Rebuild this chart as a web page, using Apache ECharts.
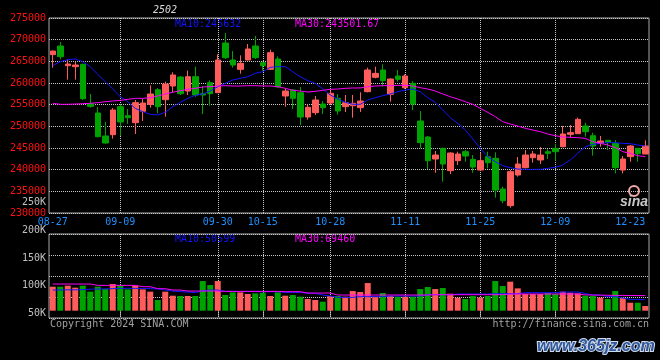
<!DOCTYPE html>
<html><head><meta charset="utf-8">
<script src="https://cdn.jsdelivr.net/npm/echarts@6/dist/echarts.min.js"></script>
<style>html,body{margin:0;padding:0;background:#000}#c{width:660px;height:360px}</style>
</head><body><div id="c"></div>
<script>
const dates = ['08-27','08-28','08-29','08-30','09-02','09-03','09-04','09-05','09-06','09-09',
'09-10','09-11','09-12','09-13','09-18','09-19','09-20','09-23','09-24','09-25',
'09-26','09-27','09-30','10-08','10-09','10-10','10-11','10-14','10-15','10-16',
'10-17','10-18','10-21','10-22','10-23','10-24','10-25','10-28','10-29','10-30',
'10-31','11-01','11-04','11-05','11-06','11-07','11-08','11-11','11-12','11-13',
'11-14','11-15','11-18','11-19','11-20','11-21','11-22','11-25','11-26','11-27',
'11-28','11-29','12-02','12-03','12-04','12-05','12-06','12-09','12-10','12-11',
'12-12','12-13','12-16','12-17','12-18','12-19','12-20','12-23','12-24','12-25'];

const opens = [266540,268540,264000,263770,264310,255230,253080,247770,248070,254540,
252460,250840,253460,255080,258460,256150,259310,261380,258150,261460,
257540,260080,257770,269230,265310,263150,265310,268540,264690,263150,
265540,257000,258380,257770,252150,253150,255150,255380,256460,254540,
254770,254310,258000,261310,263000,257380,261610,258920,259920,251230,
247540,242460,244920,239770,242070,244150,242380,239920,243000,242610,
235530,231690,238770,240460,242770,242230,244150,244920,245300,248150,
248310,250070,247840,246070,246770,246070,239920,243000,244920,243610];

const closes = [267380,266080,264380,264150,256380,254610,247610,246150,253770,251000,
252000,255460,255380,257460,254540,259770,261850,257540,261460,257230,
257230,257540,265310,265850,264150,264540,267850,265850,264000,267000,
259080,258150,256460,252150,254380,256080,254310,257610,253540,255460,
255310,255840,263000,262230,260540,260920,260850,261610,255150,246230,
242070,243380,241300,243840,243610,243150,240610,242070,241610,235300,
232840,239540,241300,243380,243610,243380,243770,244150,248230,248540,
251610,248770,245460,246610,246310,240460,242460,245460,243690,245460];

const lows = [263540,265460,260770,260770,256080,254310,247460,246000,247150,247770,
250540,248230,251230,254310,253000,252230,257850,257230,257230,256840,
252840,254770,257770,265540,263540,262150,265310,265540,262850,263000,
258920,254540,254000,250310,251540,252610,252840,255080,252690,253310,
252000,253310,257850,261080,259150,255690,260310,258610,253770,244920,
240150,239300,237230,239000,241070,241840,239300,239770,240300,233540,
232230,231230,238380,240300,241610,241300,242460,242070,245150,247460,
248230,247610,243230,245300,244540,239150,239150,241840,241840,243610];

const highs = [267500,269460,265460,264920,264460,257460,254460,251000,254230,255080,
254000,256080,256310,259460,258840,260310,262460,261610,262850,263770,
259310,260610,266610,271540,267380,266380,269000,270850,264920,267690,
266150,258770,258610,259080,255080,257000,255840,258230,257460,257230,
257230,257850,263540,263770,264310,261080,263000,262000,260460,253540,
247770,244310,245070,244000,244150,244540,243380,243920,244150,244000,
236070,239920,242920,244540,244310,245230,244690,245920,250070,250310,
252000,250840,248540,247770,246840,246840,243150,245690,244920,246770];

const ma10 = [264000,264920,265380,265540,264920,263770,262000,260310,258610,256840,
255690,254150,253380,252770,252610,253230,254540,255540,256460,257150,
257460,258150,259150,259920,260690,261080,261460,262230,262610,263610,
263770,263770,262610,261460,260540,259920,258610,257230,256310,255540,
255080,255080,256080,256610,257080,257460,258000,258380,258610,258000,
256610,255540,253770,252000,250690,249150,247070,244920,243000,241840,
240920,240460,240150,240070,240070,240070,240300,240540,241070,242230,
243770,245300,245840,246070,246230,246230,246070,246000,245690,245460];

const ma30 = [255310,255080,255080,255150,255230,255310,255460,255690,255840,256000,
256230,256460,256460,256610,257000,257460,257850,258230,258540,258770,
259080,259150,259310,259380,259310,259310,259380,259380,259310,259310,
259150,258770,258310,258150,257920,258080,258310,258540,258610,258770,
258850,258850,259150,259310,259380,259380,259460,259460,259310,258920,
258610,258150,257460,256840,256310,255690,255080,254150,253230,252230,
251070,250540,250070,249540,249150,248770,248230,247840,247540,247460,
247380,247230,246460,246070,245690,245070,244150,243770,243230,243000];

const volumes = [110400,110400,115000,105800,115000,87400,110400,99600,122600,115000,
98100,115000,98100,87400,49100,87400,69000,67500,67500,67500,
136400,118000,136400,72100,84300,84300,76700,79700,82800,67500,
84300,69000,72100,64400,53700,49100,41400,67500,67500,64400,
90400,85800,127200,64400,81200,67500,64400,64400,64400,99600,
108800,99600,104200,78200,59800,53700,67500,59800,67500,136400,
113400,133400,102700,76700,76700,76700,81200,76700,87400,82800,
79700,69000,67500,59800,53700,90400,59800,36800,36800,21500];

const volMa10 = [95000,95500,96000,96000,97000,99000,99600,100500,101500,102700,
103000,102700,102000,101500,100000,95000,90400,87400,85800,82800,
92000,95000,95000,88900,88900,88000,88900,87400,87400,87000,
87400,84300,84300,84300,79700,79700,72100,67500,61300,61300,
61300,64400,64400,64400,64400,67500,67500,67500,67500,67500,
73600,73600,73600,73600,76700,76700,76700,76700,76700,78200,
78200,78200,78200,82800,82800,82800,82800,82800,85800,85800,
85800,79700,72100,72100,64400,64400,58300,52100,52100,50600];

const volMa30 = [122600,122600,122600,122600,122600,122600,116500,116500,116500,116500,
116500,116500,110400,110400,101200,101200,95000,95000,90400,90400,
90400,90400,90400,88900,88900,88900,88900,88900,88900,88900,
88900,87400,87400,87400,81200,81200,81200,81200,72100,72100,
72100,72100,72100,72100,72100,72100,72100,72100,72100,72100,
72100,73600,73600,73600,73600,73600,73600,73600,73600,73600,
73600,76700,76700,76700,76700,76700,76700,76700,76700,76700,
76700,72600,72000,71500,71000,70500,70000,70000,69500,69460];

const labelIdx = [0, 9, 22, 28, 37, 47, 57, 67, 77];
const gridIdx = [9, 22, 28, 37, 47, 57, 67];

const titleText = '2502';
const maPriceText = ['MA10:245632', 'MA30:243501.67'];
const maVolText = ['MA10:50599', 'MA30:69460'];

const MONO = '"DejaVu Sans Mono", "Liberation Mono", monospace';
const UP = '#ff5c5c', DOWN = '#00a400';
const BLUE = '#1414ff', MAGENTA = '#ff00ff';
const GRIDC = '#c8c8c8', BORDER = '#a8a8a8';

const candleData = dates.map((d, i) => [opens[i], closes[i], lows[i], highs[i]]);
const dotted = {color: GRIDC, type: [1, 1], width: 1};

const chart = echarts.init(document.getElementById('c'));
chart.setOption({
  backgroundColor: '#000',
  animation: false,
  grid: [
    {left: 49, right: 11, top: 18, bottom: 147, show: true, borderColor: BORDER, borderWidth: 1},
    {left: 49, right: 11, top: 234, bottom: 42, show: true, borderColor: BORDER, borderWidth: 1},
    {left: 49, right: 11, top: 202.5, bottom: 46.5, show: false}
  ],
  xAxis: [
    {type: 'category', gridIndex: 0, data: dates, boundaryGap: true,
     axisLine: {show: false}, axisTick: {show: false},
     axisLabel: {interval: (i) => labelIdx.includes(i), color: '#1e90ff', fontFamily: MONO, fontSize: 10, margin: 4},
     splitLine: {show: true, interval: (i) => gridIdx.includes(i), alignWithLabel: true, lineStyle: dotted}},
    {type: 'category', gridIndex: 1, data: dates, boundaryGap: true,
     axisLine: {show: false}, axisLabel: {show: false},
     axisTick: {show: true, interval: (i) => gridIdx.includes(i), alignWithLabel: true, length: 5, lineStyle: dotted},
     splitLine: {show: true, interval: (i) => gridIdx.includes(i), alignWithLabel: true, lineStyle: dotted}},
    {type: 'category', gridIndex: 2, data: dates, show: false}
  ],
  yAxis: [
    {type: 'value', gridIndex: 0, min: 230000, max: 275000, interval: 5000,
     axisLine: {show: false}, axisTick: {show: false},
     axisLabel: {color: '#ff1010', fontFamily: MONO, fontSize: 10, margin: 3, padding: [0, 0, 3, 0], formatter: (v) => String(v)},
     splitLine: {show: true, lineStyle: dotted}},
    {type: 'value', gridIndex: 1, min: -33600, max: 352800, show: false, splitLine: {show: false}},
    {type: 'value', gridIndex: 1, min: 0, max: 4, interval: 1,
     axisLine: {show: false}, axisTick: {show: false}, axisLabel: {show: false},
     splitLine: {show: true, lineStyle: dotted}},
    {type: 'value', gridIndex: 2, min: 50000, max: 250000, interval: 50000,
     axisLine: {show: false}, axisTick: {show: false}, splitLine: {show: false},
     axisLabel: {color: '#c0c0c0', fontFamily: MONO, fontSize: 10, margin: 3, formatter: (v) => (v / 1000) + 'K'}}
  ],
  series: [
    {type: 'candlestick', xAxisIndex: 0, yAxisIndex: 0, data: candleData, barWidth: 6,
     itemStyle: {color: UP, color0: DOWN, borderColor: UP, borderColor0: DOWN, borderWidth: 1}},
    {type: 'line', xAxisIndex: 0, yAxisIndex: 0, data: ma10, showSymbol: false, symbol: 'none',
     lineStyle: {color: BLUE, width: 1}},
    {type: 'line', xAxisIndex: 0, yAxisIndex: 0, data: ma30, showSymbol: false, symbol: 'none',
     lineStyle: {color: MAGENTA, width: 1}},
    {type: 'bar', xAxisIndex: 1, yAxisIndex: 1, data: volumes, barWidth: 6,
     itemStyle: {color: (p) => closes[p.dataIndex] >= opens[p.dataIndex] ? UP : DOWN}},
    {type: 'line', xAxisIndex: 1, yAxisIndex: 1, data: volMa10, showSymbol: false, symbol: 'none',
     lineStyle: {color: BLUE, width: 1}},
    {type: 'line', xAxisIndex: 1, yAxisIndex: 1, data: volMa30, showSymbol: false, symbol: 'none',
     lineStyle: {color: MAGENTA, width: 1}}
  ],
  graphic: [
    {type: 'text', x: 153, y: 10, style: {text: titleText, fill: '#d8d8d8', font: 'italic 10px ' + MONO, verticalAlign: 'middle'}},
    {type: 'text', x: 175, y: 24, style: {text: maPriceText[0], fill: BLUE, font: '10px ' + MONO, verticalAlign: 'middle'}},
    {type: 'text', x: 295, y: 24, style: {text: maPriceText[1], fill: MAGENTA, font: '10px ' + MONO, verticalAlign: 'middle'}},
    {type: 'text', x: 175, y: 239, style: {text: maVolText[0], fill: BLUE, font: '10px ' + MONO, verticalAlign: 'middle'}},
    {type: 'text', x: 295, y: 239, style: {text: maVolText[1], fill: MAGENTA, font: '10px ' + MONO, verticalAlign: 'middle'}},
    {type: 'text', x: 50, y: 324, style: {text: 'Copyright 2024 SINA.COM', fill: '#a0a0a0', font: '10px ' + MONO, verticalAlign: 'middle'}},
    {type: 'text', x: 649, y: 324, style: {text: 'http://finance.sina.com.cn', fill: '#a0a0a0', font: '10px ' + MONO, align: 'right', verticalAlign: 'middle'}},
    {type: 'circle', shape: {cx: 634, cy: 191, r: 5}, style: {fill: 'none', stroke: '#f0a8a8', lineWidth: 2}},
    {type: 'text', x: 620, y: 202, style: {text: 'sina', fill: '#c8c8c8', font: 'italic bold 14px "Liberation Sans", sans-serif', verticalAlign: 'middle'}},
    {type: 'text', x: 537, y: 347, style: {text: 'www.365jz.com', fill: '#30589a', stroke: '#d0dcf0', lineWidth: 2, font: 'italic bold 16px "Liberation Sans", sans-serif', verticalAlign: 'middle'}}
  ]
});
</script>
</body></html>
